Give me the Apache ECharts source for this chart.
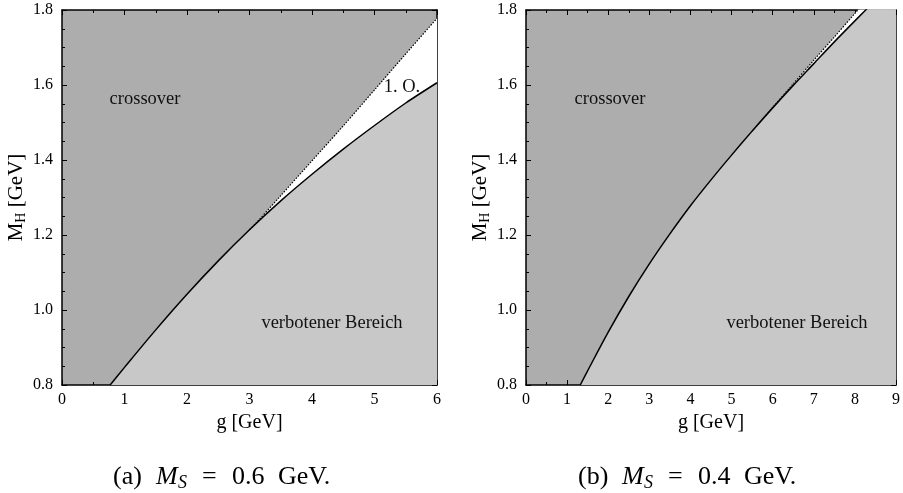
<!DOCTYPE html>
<html>
<head>
<meta charset="utf-8">
<script src="https://cdn.jsdelivr.net/npm/echarts@6/dist/echarts.min.js"></script>
<style>html,body{margin:0;padding:0;background:#fff;}#c{width:903px;height:493px;}</style>
</head>
<body>
<div id="c"></div>
<script>
// Data
const leftXTicks = [0, 1, 2, 3, 4, 5, 6];
const rightXTicks = [0, 1, 2, 3, 4, 5, 6, 7, 8, 9];
const yTicks = [0.8, 1.0, 1.2, 1.4, 1.6, 1.8];
const leftSolid = [[0.77,0.8],[1,0.847],[1.5,0.947],[2,1.042],[2.5,1.131],[3,1.214],[3.5,1.291],[4,1.362],[4.5,1.429],[5,1.492],[5.5,1.552],[6,1.606]];
const leftDotted = [[3.0,1.214],[3.1,1.231],[3.5,1.305],[4,1.398],[4.5,1.491],[5,1.587],[5.5,1.683],[6,1.778]];
const rightSolid = [[1.32,0.8],[1.5,0.838],[2,0.941],[2.5,1.036],[3,1.123],[3.5,1.203],[4,1.278],[4.5,1.347],[5,1.413],[5.5,1.477],[6,1.539],[6.5,1.599],[7,1.657],[7.5,1.715],[8,1.771],[8.5,1.826],[9,1.882]];
const rightDotted = [[5.5,1.477],[5.7,1.502],[6,1.540],[6.5,1.603],[7,1.666],[7.5,1.728],[8,1.791],[9,1.917]];

const DARK = '#adadad', LIGHT = '#c8c8c8';
const SERIF = '"Liberation Serif", "Times New Roman", serif';

const chart = echarts.init(document.getElementById('c'), null, {renderer: 'canvas'});

function xAx(grid, max, pos, showLabel) {
  return {
    type: 'value', gridIndex: grid, min: leftXTicks[0], max: max, interval: 1, position: pos,
    axisLine: {show: true, onZero: false, lineStyle: {color: '#000', width: 1.5}},
    axisTick: {show: true, inside: true, length: 5, lineStyle: {color: '#000', width: 1}},
    minorTick: {show: true, splitNumber: 2, length: 3, lineStyle: {color: '#000', width: 1}},
    splitLine: {show: false}, minorSplitLine: {show: false},
    axisLabel: {show: showLabel, margin: 7, color: '#000', fontFamily: SERIF, fontSize: 16},
    name: showLabel ? 'g [GeV]' : '', nameLocation: 'middle', nameGap: 21,
    nameTextStyle: {color: '#000', fontFamily: SERIF, fontSize: 20}
  };
}
function yAx(grid, pos, showLabel) {
  return {
    type: 'value', gridIndex: grid, min: yTicks[0], max: yTicks[yTicks.length-1], interval: 0.2, position: pos,
    axisLine: {show: true, onZero: false, lineStyle: {color: '#000', width: 1.5}},
    axisTick: {show: true, inside: true, length: 5, lineStyle: {color: '#000', width: 1}},
    minorTick: {show: true, splitNumber: 4, length: 3, lineStyle: {color: '#000', width: 1}},
    splitLine: {show: false}, minorSplitLine: {show: false},
    axisLabel: {show: showLabel, margin: 9, color: '#000', fontFamily: SERIF, fontSize: 16,
      formatter: v => v.toFixed(1)},
    name: showLabel ? '{m|M}{s|H}{m| [GeV]}' : '', nameLocation: 'middle', nameGap: 34, nameMoveOverlap: false,
    nameTextStyle: {color: '#000', fontFamily: SERIF, fontSize: 21,
      rich: {m: {fontFamily: SERIF, fontSize: 21, color: '#000'},
             s: {fontFamily: SERIF, fontSize: 14, color: '#000', padding: [10, 0, 0, 0]}}}
  };
}
function area(name, data, xi, yi, dotted, fill) {
  return {
    name: name, type: 'line', xAxisIndex: xi, yAxisIndex: yi, data: data,
    showSymbol: false, smooth: 0.3, clip: true, animation: false,
    lineStyle: {color: '#000', width: dotted ? 1.2 : 1.5, type: dotted ? [1.5, 1.5] : 'solid'},
    areaStyle: {color: fill, opacity: 1, origin: 'start'}
  };
}

const txt = (t, x, y) => ({type: 'text', z: 100, style: {text: t, x: x, y: y, align: 'center', verticalAlign: 'middle',
  font: '18.5px ' + SERIF, fill: '#111'}});
const cap = (t, x, italic, size, dy) => ({type: 'text', z: 100, style: {text: t, x: x, y: 477 + (dy||0),
  align: 'left', verticalAlign: 'middle', font: (italic ? 'italic ' : '') + (size||26) + 'px ' + SERIF, fill: '#000'}});

chart.setOption({
  animation: false,
  grid: [
    {left: 62, top: 10, width: 375, height: 375, show: true, backgroundColor: DARK, borderWidth: 0},
    {left: 526, top: 10, width: 375, height: 375, show: true, backgroundColor: DARK, borderWidth: 0}
  ],
  xAxis: [xAx(0, 6, 'bottom', true), xAx(0, 6, 'top', false), xAx(1, 9, 'bottom', true), xAx(1, 9, 'top', false)],
  yAxis: [yAx(0, 'left', true), yAx(0, 'right', false), yAx(1, 'left', true), yAx(1, 'right', false)],
  series: [
    area('1. O. (a)', leftDotted, 0, 0, true, '#ffffff'),
    area('Grenze (a)', leftSolid, 0, 0, false, LIGHT),
    area('1. O. (b)', rightDotted, 2, 2, true, '#ffffff'),
    area('Grenze (b)', rightSolid, 2, 2, false, LIGHT)
  ],
  graphic: [
    txt('crossover', 145, 99), txt('verbotener Bereich', 332, 323), txt('1. O.', 402, 87),
    txt('crossover', 610, 99), txt('verbotener Bereich', 797, 323),
    cap('(a)', 113), cap('M', 156, true), cap('S', 178, true, 18, 6), cap('=', 202), cap('0.6', 232), cap('GeV.', 278),
    cap('(b)', 578), cap('M', 622, true), cap('S', 644, true, 18, 6), cap('=', 668), cap('0.4', 698), cap('GeV.', 744)
  ]
});
</script>
</body>
</html>
